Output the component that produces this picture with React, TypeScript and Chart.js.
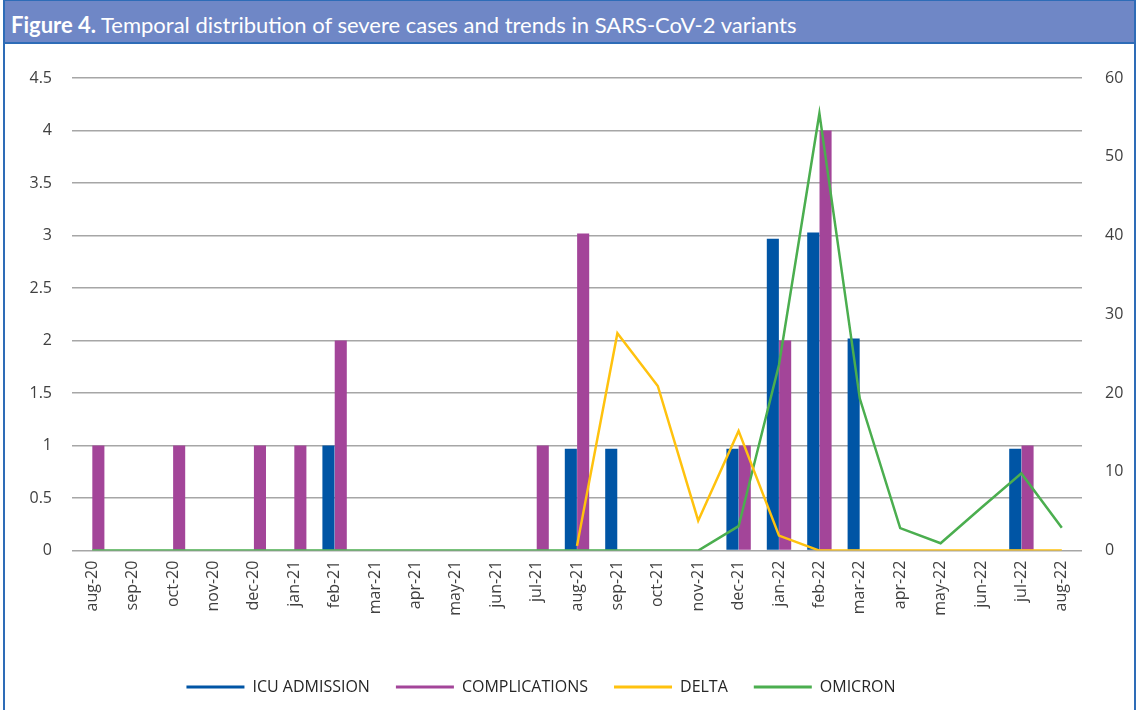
import React, { useEffect, useRef } from 'react';
import { Chart, registerables } from 'chart.js';

Chart.register(...registerables);

const months = [
  'aug-20', 'sep-20', 'oct-20', 'nov-20', 'dec-20', 'jan-21', 'feb-21', 'mar-21', 'apr-21',
  'may-21', 'jun-21', 'jul-21', 'aug-21', 'sep-21', 'oct-21', 'nov-21', 'dec-21', 'jan-22',
  'feb-22', 'mar-22', 'apr-22', 'may-22', 'jun-22', 'jul-22', 'aug-22',
];

const icuAdmission = [0, 0, 0, 0, 0, 0, 1, 0, 0, 0, 0, 0, 0.97, 0.97, 0, 0, 0.97, 2.97, 3.03, 2.02, 0, 0, 0, 0.97, 0];
const complications = [1, 0, 1, 0, 1, 1, 2, 0, 0, 0, 0, 1, 3.02, 0, 0, 0, 1, 2, 4, 0, 0, 0, 0, 1, 0];
const delta = [null, null, null, null, null, null, null, null, null, null, null, null,
  0.6, 27.6, 20.9, 3.8, 15.2, 1.9, 0, 0, 0, 0, 0, 0, 0];
const omicron = [0, 0, 0, 0, 0, 0, 0, 0, 0, 0, 0, 0, 0, 0, 0, 0,
  3.1, 23.6, 55.5, 19.3, 2.85, 0.93, 5.4, 9.8, 2.9];

const seriesLabels = ['ICU ADMISSION', 'COMPLICATIONS', 'DELTA', 'OMICRON'];

const BLUE = '#0055A5';
const PURPLE = '#A34599';
const YELLOW = '#FFC20E';
const GREEN = '#4BAE4F';
const FRAME = '#2E6CB7';
const TEXT = '#404040';
const FONT = "'Open Sans', 'DejaVu Sans', sans-serif";

export default function App() {
  const ref = useRef<HTMLCanvasElement>(null);

  useEffect(() => {
    document.body.style.margin = '0';
    const colors = [BLUE, PURPLE, YELLOW, GREEN];
    const chart = new Chart(ref.current as HTMLCanvasElement, {
      type: 'bar',
      data: {
        labels: months,
        datasets: [
          {
            type: 'bar', label: seriesLabels[0], data: icuAdmission, backgroundColor: BLUE,
            yAxisID: 'y', order: 1, categoryPercentage: 0.61, barPercentage: 0.98,
          },
          {
            type: 'bar', label: seriesLabels[1], data: complications, backgroundColor: PURPLE,
            yAxisID: 'y', order: 1, categoryPercentage: 0.61, barPercentage: 0.98,
          },
          {
            type: 'line', label: seriesLabels[2], data: delta, borderColor: YELLOW, backgroundColor: YELLOW,
            borderWidth: 2.5, pointRadius: 0, tension: 0, yAxisID: 'y1', order: 0, spanGaps: false,
          },
          {
            type: 'line', label: seriesLabels[3], data: omicron, borderColor: GREEN, backgroundColor: GREEN,
            borderWidth: 2.5, pointRadius: 0, tension: 0, yAxisID: 'y1', order: 0,
          },
        ] as any,
      },
      options: {
        animation: false,
        responsive: false,
        maintainAspectRatio: false,
        layout: { padding: { left: -57, right: 0, top: 78, bottom: 5 } },
        plugins: {
          tooltip: { enabled: false },
          legend: {
            position: 'bottom',
            labels: {
              boxWidth: 58,
              boxHeight: 3,
              padding: 26,
              color: '#262626',
              font: { family: FONT, size: 16 },
              sort: (a: any, b: any) => a.datasetIndex - b.datasetIndex,
              generateLabels: () => seriesLabels.map((text, i) => ({
                text,
                fillStyle: colors[i],
                strokeStyle: colors[i],
                lineWidth: 0,
                hidden: false,
                datasetIndex: i,
                fontColor: '#262626',
              })),
            },
          } as any,
        },
        scales: {
          x: {
            grid: { display: false, drawTicks: false },
            border: { display: false },
            ticks: {
              minRotation: 90, maxRotation: 90, autoSkip: false, padding: 10,
              color: TEXT, font: { family: FONT, size: 16 },
            },
            afterFit: (s: any) => { s.height = 102.4; },
          },
          y: {
            position: 'left', min: 0, max: 4.5,
            ticks: {
              stepSize: 0.5, padding: 20, color: TEXT, font: { family: FONT, size: 16 },
              callback: (v: any) => String(Number(v)),
            },
            grid: { color: '#A6A6A6', lineWidth: 1.5, drawTicks: false },
            border: { display: false },
            afterFit: (s: any) => { s.width = 129; },
          },
          y1: {
            position: 'right', min: 0, max: 60,
            ticks: {
              stepSize: 10, padding: 23, color: TEXT, font: { family: FONT, size: 16 },
              callback: (v: any) => String(Number(v)),
            },
            grid: { display: false, drawTicks: false },
            border: { display: false },
            afterFit: (s: any) => { s.width = 57; },
          },
        },
      } as any,
    });
    return () => chart.destroy();
  }, []);

  return (
    <div style={{ position: 'absolute', left: 0, top: 0, width: 1139, height: 710, background: '#fff', overflow: 'hidden' }}>
      <canvas ref={ref} width={1139} height={710} style={{ position: 'absolute', left: 0, top: 0, width: 1139, height: 710 }} />
      <div style={{
        position: 'absolute', left: 3, top: 0, width: 1133, height: 716, boxSizing: 'border-box',
        border: `2px solid ${FRAME}`, pointerEvents: 'none',
      }} />
      <div style={{
        position: 'absolute', left: 3, top: 0, width: 1133, height: 44, boxSizing: 'border-box',
        background: '#6F87C6', borderTop: `1px solid ${FRAME}`, borderLeft: `2px solid ${FRAME}`,
        borderRight: `2px solid ${FRAME}`, borderBottom: `2px solid ${FRAME}`,
      }}>
        <div style={{
          position: 'absolute', left: 6, top: 10, lineHeight: '28px', fontSize: 22, color: '#fff',
          fontFamily: "Lato, 'Open Sans', sans-serif", whiteSpace: 'nowrap',
        }}>
          <b>Figure 4.</b> Temporal distribution of severe cases and trends in SARS-CoV-2 variants
        </div>
      </div>
    </div>
  );
}
